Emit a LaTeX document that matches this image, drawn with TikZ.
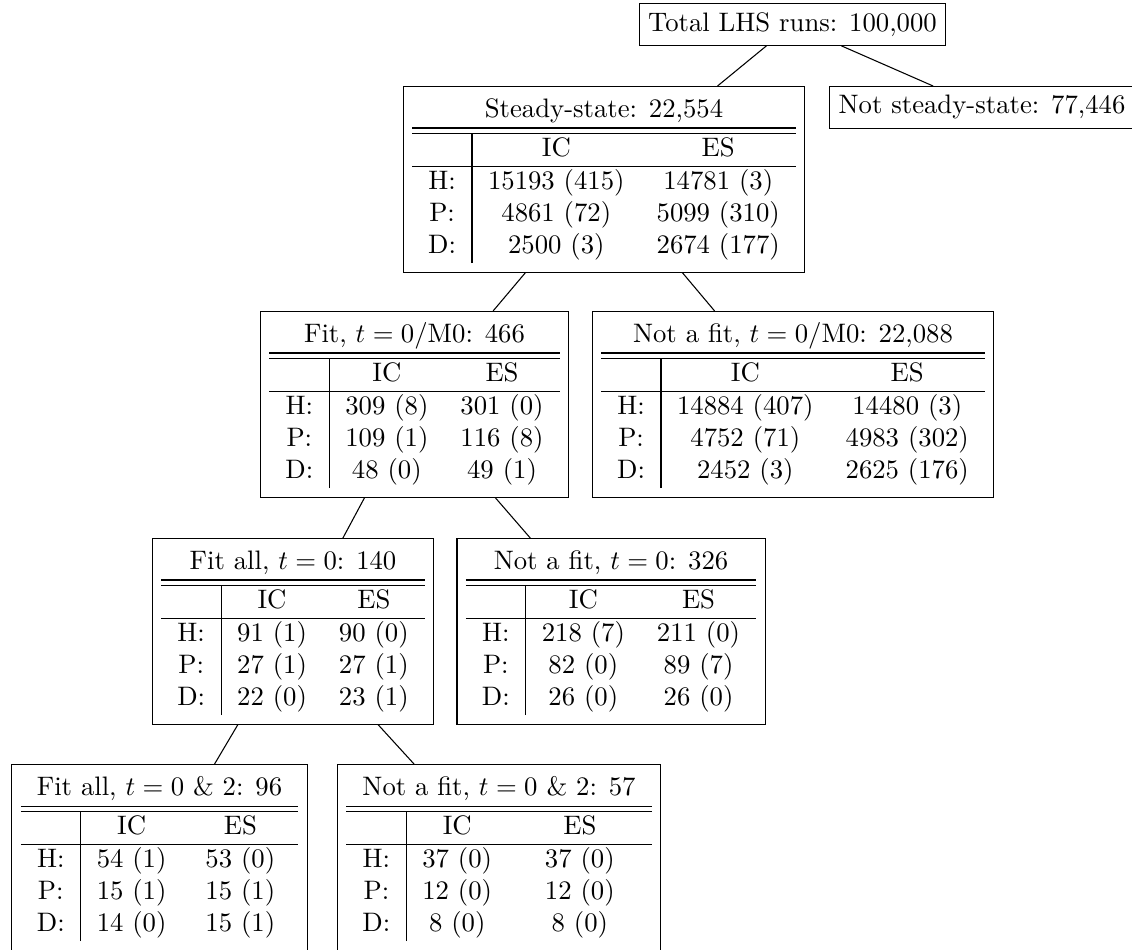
\documentclass[tikz,border=0pt]{standalone}
\newcommand{\restab}[7]{%
  \begin{tabular}{c|cc}
    \multicolumn{3}{c}{#1}\\ \hline\hline
    & IC & ES\\ \hline
    H: & #2 & #3\\
    P: & #4 & #5\\
    D: & #6 & #7
  \end{tabular}}
\begin{document}
\begin{tikzpicture}[x=0.3743pt,y=-0.3743pt,
  box/.style={draw, anchor=north, inner sep=3.33pt},
  link/.style={draw}]
\useasboundingbox (0,0) rectangle (1132,949);
\node[box] (total) at (792.5,3) {Total LHS runs: 100,000};
\node[box] (steady) at (604,86) {\restab{Steady-state: 22,554}{15193 (415)}{14781 (3)}{4861 (72)}{5099 (310)}{2500 (3)}{2674 (177)}};
\node[box] (notsteady) at (982,86) {Not steady-state: 77,446};
\node[box] (fit) at (414.5,311) {\restab{Fit, $t=0$/M0: 466}{309 (8)}{301 (0)}{109 (1)}{116 (8)}{48 (0)}{49 (1)}};
\node[box] (notfit) at (793,311) {\restab{Not a fit, $t=0$/M0: 22,088}{14884 (407)}{14480 (3)}{4752 (71)}{4983 (302)}{2452 (3)}{2625 (176)}};
\node[box] (fitall) at (293,538) {\restab{Fit all, $t=0$: 140}{91 (1)}{90 (0)}{27 (1)}{27 (1)}{22 (0)}{23 (1)}};
\node[box] (notfitzero) at (611,538) {\restab{Not a fit, $t=0$: 326}{218 (7)}{211 (0)}{82 (0)}{89 (7)}{26 (0)}{26 (0)}};
\node[box] (fitalltwo) at (159.5,764) {\restab{Fit all, $t=0$ \& 2: 96}{54 (1)}{53 (0)}{15 (1)}{15 (1)}{14 (0)}{15 (1)}};
\node[box] (notfittwo) at (499,764) {\restab{Not a fit, $t=0$ \& 2: 57}{37 (0)}{37 (0)}{12 (0)}{12 (0)}{8 (0)}{8 (0)}};
\draw[link] (total) -- (steady);
\draw[link] (total) -- (notsteady);
\draw[link] (steady) -- (fit);
\draw[link] (steady) -- (notfit);
\draw[link] (fit) -- (fitall);
\draw[link] (fit) -- (notfitzero);
\draw[link] (fitall) -- (fitalltwo);
\draw[link] (fitall) -- (notfittwo);
\end{tikzpicture}
\end{document}
